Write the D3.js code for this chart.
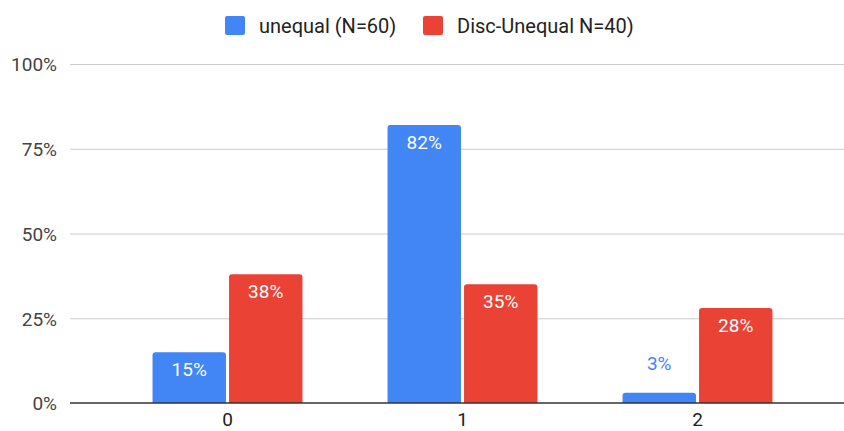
<!DOCTYPE html>
<html>
<head>
<meta charset="utf-8">
<script src="https://cdn.jsdelivr.net/npm/d3@7/dist/d3.min.js"></script>
<style>
  html, body { margin: 0; padding: 0; background: #fff; }
  svg { display: block; font-family: Roboto, "Noto Sans", sans-serif; }
</style>
</head>
<body>
<svg id="chart" width="844" height="431"></svg>
<script>
// Share of each group falling into each category
const categories = ["0", "1", "2"];
const seriesNames = ["unequal (N=60)", "Disc-Unequal N=40)"];
const unequalValues = [0.15, 0.82, 0.03];
const discUnequalValues = [0.38, 0.35, 0.28];
const yTicks = [0, 0.25, 0.5, 0.75, 1];
const seriesColors = ["#4285F4", "#EA4335"];

const seriesValues = [unequalValues, discUnequalValues];
const rows = categories.map((c, i) => ({
  category: c,
  values: seriesNames.map((s, k) => ({ series: s, k, value: seriesValues[k][i] }))
}));

const svg = d3.select("#chart");
const gridLeft = 70, gridRight = 844;
const y = d3.scaleLinear().domain([0, 1]).range([403, 64]);
const x0 = d3.scaleBand().domain(categories).range([110, 815])
  .paddingInner(0.362).paddingOuter(0.181);
const x1 = d3.scaleBand().domain(seriesNames).range([0, x0.bandwidth()]).paddingInner(0.04);
const color = d3.scaleOrdinal().domain(seriesNames).range(seriesColors);
const pct = d3.format(".0%");

// Horizontal gridlines with percentage labels
const yAxis = d3.axisLeft(y).tickValues(yTicks).tickFormat(pct)
  .tickSize(-(gridRight - gridLeft)).tickPadding(13);
const gy = svg.append("g").attr("transform", `translate(${gridLeft},0)`).call(yAxis);
gy.select(".domain").remove();
gy.selectAll(".tick line").attr("stroke", "#cccccc").attr("stroke-width", 1)
  .filter(d => d === 0).remove();
gy.selectAll(".tick text").attr("fill", "#444").style("font-size", "19px")
  .style("font-family", "Roboto, sans-serif").attr("dy", "0.36em");

// Rounded-top bar outline
function barPath(x, yTop, w, yBase, r) {
  const h = yBase - yTop;
  r = Math.min(r, h, w / 2);
  return `M${x},${yBase}V${yTop + r}Q${x},${yTop} ${x + r},${yTop}H${x + w - r}Q${x + w},${yTop} ${x + w},${yTop + r}V${yBase}Z`;
}

const groups = svg.append("g").selectAll("g").data(rows).join("g")
  .attr("transform", d => `translate(${x0(d.category)},0)`);

groups.selectAll("path").data(d => d.values).join("path")
  .attr("d", d => barPath(x1(d.series), y(d.value), x1.bandwidth(), y(0), 3))
  .attr("fill", d => color(d.series));

// Value labels: inside the bar top when it fits, otherwise above it
const fitsInside = d => y(0) - y(d.value) > 34;
groups.selectAll("text").data(d => d.values).join("text")
  .attr("x", d => x1(d.series) + x1.bandwidth() / 2)
  .attr("y", d => fitsInside(d) ? y(d.value) + 24 : y(d.value) - 23)
  .attr("text-anchor", "middle")
  .attr("fill", d => fitsInside(d) ? "#ffffff" : color(d.series))
  .style("font-size", "19px")
  .text(d => pct(d.value));

// Baseline
svg.append("line").attr("x1", gridLeft).attr("x2", gridRight)
  .attr("y1", y(0)).attr("y2", y(0)).attr("stroke", "#333").attr("stroke-width", 1.5);

// Category axis labels
const xAxis = d3.axisBottom(x0).tickSize(0).tickPadding(10);
const gx = svg.append("g").attr("transform", `translate(0,${y(0)})`).call(xAxis);
gx.select(".domain").remove();
gx.selectAll(".tick text").attr("fill", "#222").style("font-size", "19px")
  .style("font-family", "Roboto, sans-serif");

// Legend
const legendItems = [
  { name: seriesNames[0], x: 225 },
  { name: seriesNames[1], x: 423 }
];
const lg = svg.append("g").selectAll("g").data(legendItems).join("g")
  .attr("transform", d => `translate(${d.x},16)`);
lg.append("rect").attr("width", 20).attr("height", 19).attr("rx", 2)
  .attr("fill", d => color(d.name));
lg.append("text").attr("x", 34).attr("y", 17).attr("fill", "#222")
  .style("font-size", "20px").text(d => d.name);
</script>
</body>
</html>
